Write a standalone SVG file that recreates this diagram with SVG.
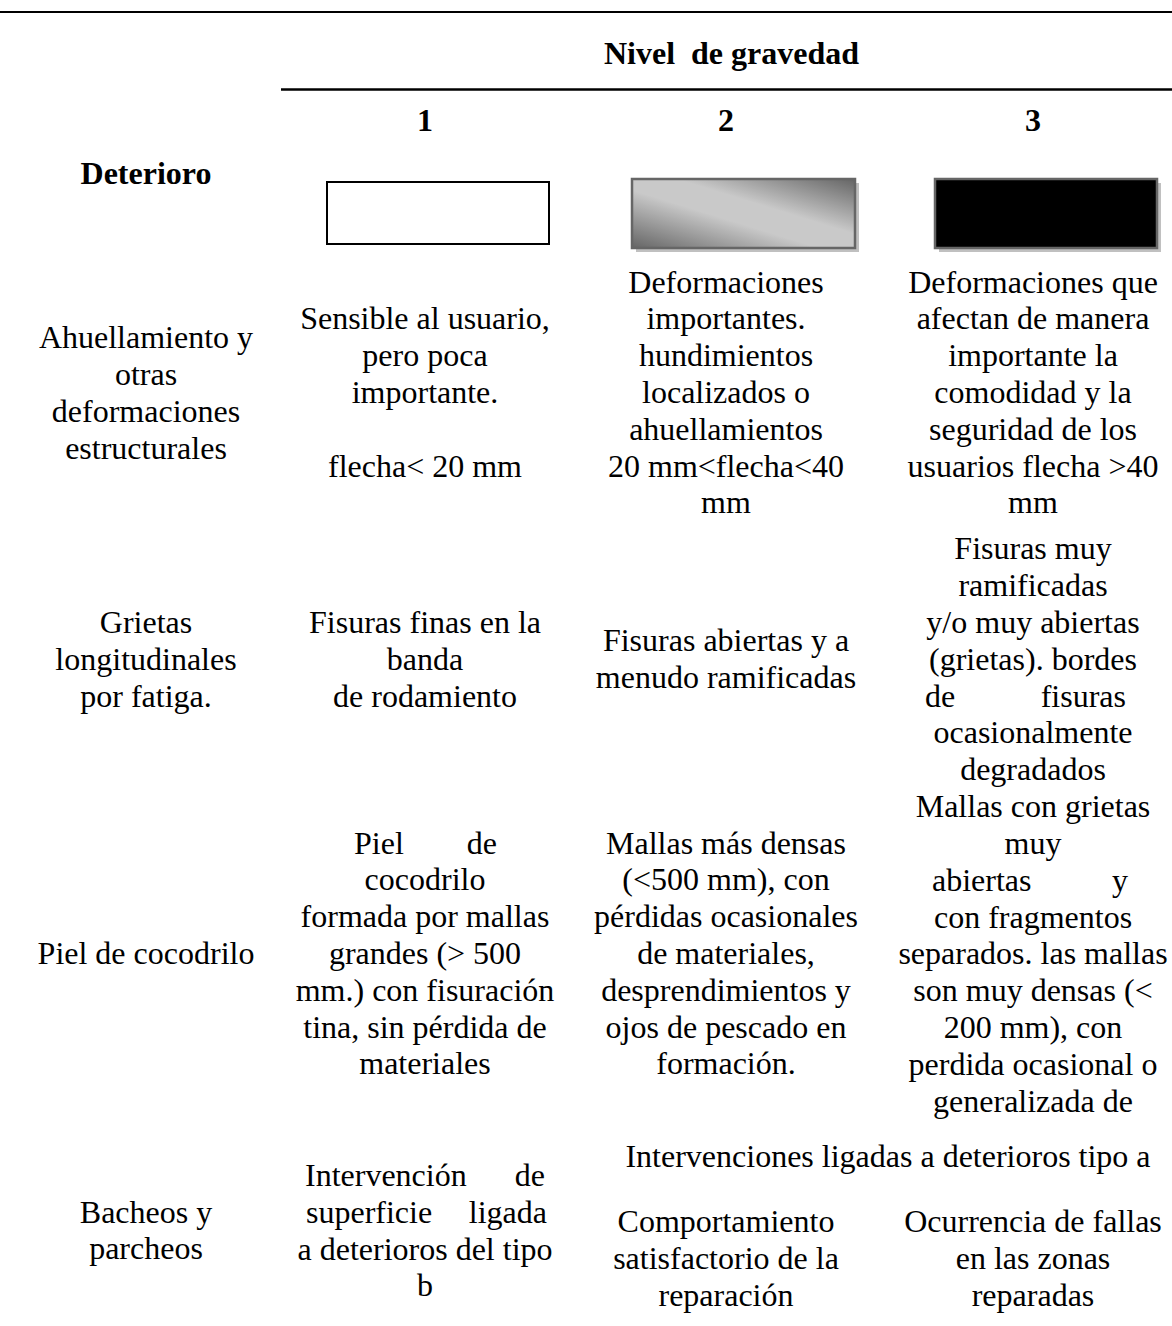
<svg xmlns="http://www.w3.org/2000/svg" width="1172" height="1326" viewBox="0 0 1172 1326">
<style>
text{font-family:"Liberation Serif","Times New Roman",serif;font-size:32px;fill:#000}
.c{text-anchor:middle}
.e{text-anchor:end}
.b{font-weight:bold}
.rule{stroke:#000;fill:none}
.sh{fill:#c0c0c0}
</style>
<defs>
<linearGradient id="g2" x1="0" y1="1" x2="1" y2="0">
<stop offset="0" stop-color="#656565"/>
<stop offset="0.42" stop-color="#c9c9c9"/>
<stop offset="0.6" stop-color="#c9c9c9"/>
<stop offset="1" stop-color="#656565"/>
</linearGradient>
</defs>
<rect width="1172" height="1326" fill="#fff"/>
<g id="rules">
<line class="rule" x1="0" y1="12" x2="1172" y2="12" stroke-width="2"/>
<line class="rule" x1="281" y1="89.5" x2="1172" y2="89.5" stroke-width="2.5"/>
</g>
<g id="header">
<text class="c b" x="731.5" y="64" style="white-space:pre">Nivel  de gravedad</text>
<text class="c b" x="425" y="131">1</text>
<text class="c b" x="726" y="131">2</text>
<text class="c b" x="1033" y="131">3</text>
<text class="c b" x="146" y="184">Deterioro</text>
</g>
<g id="legend-1">
<rect x="327" y="182" width="222" height="62" fill="#fff" stroke="#000" stroke-width="2"/>
</g>
<g id="legend-2">
<rect class="sh" x="636" y="183" width="223" height="69"/>
<rect x="632" y="179" width="223" height="69" fill="url(#g2)" stroke="#666" stroke-width="2.5"/>
</g>
<g id="legend-3">
<rect class="sh" x="939" y="183" width="222" height="69"/>
<rect x="935" y="179" width="222" height="69" fill="#000" stroke="#666" stroke-width="2.5"/>
</g>
<g id="row-ahuellamiento">
<text class="c" x="146" y="348.4">Ahuellamiento y</text>
<text class="c" x="146" y="385.2">otras</text>
<text class="c" x="146" y="422">deformaciones</text>
<text class="c" x="146" y="458.8">estructurales</text>
<text class="c" x="425" y="329.4">Sensible al usuario,</text>
<text class="c" x="425" y="366.2">pero poca</text>
<text class="c" x="425" y="403">importante.</text>
<text class="c" x="425" y="476.6">flecha&lt; 20 mm</text>
<text class="c" x="726" y="292.6">Deformaciones</text>
<text class="c" x="726" y="329.4">importantes.</text>
<text class="c" x="726" y="366.2">hundimientos</text>
<text class="c" x="726" y="403">localizados o</text>
<text class="c" x="726" y="439.8">ahuellamientos</text>
<text class="c" x="726" y="476.6">20 mm&lt;flecha&lt;40</text>
<text class="c" x="726" y="513.4">mm</text>
<text class="c" x="1033" y="292.6">Deformaciones que</text>
<text class="c" x="1033" y="329.4">afectan de manera</text>
<text class="c" x="1033" y="366.2">importante la</text>
<text class="c" x="1033" y="403">comodidad y la</text>
<text class="c" x="1033" y="439.8">seguridad de los</text>
<text class="c" x="1033" y="476.6">usuarios flecha &gt;40</text>
<text class="c" x="1033" y="513.4">mm</text>
</g>
<g id="row-grietas">
<text class="c" x="146" y="633">Grietas</text>
<text class="c" x="146" y="669.8">longitudinales</text>
<text class="c" x="146" y="706.6">por fatiga.</text>
<text class="c" x="425" y="633">Fisuras finas en la</text>
<text class="c" x="425" y="669.8">banda</text>
<text class="c" x="425" y="706.6">de rodamiento</text>
<text class="c" x="726" y="651.4">Fisuras abiertas y a</text>
<text class="c" x="726" y="688.2">menudo ramificadas</text>
<text class="c" x="1033" y="559.4">Fisuras muy</text>
<text class="c" x="1033" y="596.2">ramificadas</text>
<text class="c" x="1033" y="633">y/o muy abiertas</text>
<text class="c" x="1033" y="669.8">(grietas). bordes</text>
<text x="925" y="706.6">de</text>
<text class="e" x="1126" y="706.6">fisuras</text>
<text class="c" x="1033" y="743.4">ocasionalmente</text>
<text class="c" x="1033" y="780.2">degradados</text>
</g>
<g id="row-piel">
<text class="c" x="146" y="964">Piel de cocodrilo</text>
<text x="354" y="853.6">Piel</text>
<text class="e" x="497" y="853.6">de</text>
<text class="c" x="425" y="890.4">cocodrilo</text>
<text class="c" x="425" y="927.2">formada por mallas</text>
<text class="c" x="425" y="964">grandes (&gt; 500</text>
<text class="c" x="425" y="1000.8">mm.) con fisuración</text>
<text class="c" x="425" y="1037.6">tina, sin pérdida de</text>
<text class="c" x="425" y="1074.4">materiales</text>
<text class="c" x="726" y="853.6">Mallas más densas</text>
<text class="c" x="726" y="890.4">(&lt;500 mm), con</text>
<text class="c" x="726" y="927.2">pérdidas ocasionales</text>
<text class="c" x="726" y="964">de materiales,</text>
<text class="c" x="726" y="1000.8">desprendimientos y</text>
<text class="c" x="726" y="1037.6">ojos de pescado en</text>
<text class="c" x="726" y="1074.4">formación.</text>
<text class="c" x="1033" y="817.2">Mallas con grietas</text>
<text class="c" x="1033" y="854">muy</text>
<text x="932" y="890.8">abiertas</text>
<text class="e" x="1128" y="890.8">y</text>
<text class="c" x="1033" y="927.6">con fragmentos</text>
<text class="c" x="1033" y="964.4">separados. las mallas</text>
<text class="c" x="1033" y="1001.2">son muy densas (&lt;</text>
<text class="c" x="1033" y="1038">200 mm), con</text>
<text class="c" x="1033" y="1074.8">perdida ocasional o</text>
<text class="c" x="1033" y="1111.6">generalizada de</text>
</g>
<g id="row-bacheos">
<text class="c" x="146" y="1222.6">Bacheos y</text>
<text class="c" x="146" y="1259.4">parcheos</text>
<text x="305" y="1186">Intervención</text>
<text class="e" x="545" y="1186">de</text>
<text x="306" y="1222.8">superficie</text>
<text class="e" x="547" y="1222.8">ligada</text>
<text class="c" x="425" y="1259.6">a deterioros del tipo</text>
<text class="c" x="425" y="1296.4">b</text>
<text class="c" x="888" y="1167">Intervenciones ligadas a deterioros tipo a</text>
<text class="c" x="726" y="1232">Comportamiento</text>
<text class="c" x="726" y="1268.8">satisfactorio de la</text>
<text class="c" x="726" y="1305.6">reparación</text>
<text class="c" x="1033" y="1232">Ocurrencia de fallas</text>
<text class="c" x="1033" y="1268.8">en las zonas</text>
<text class="c" x="1033" y="1305.6">reparadas</text>
</g>
</svg>
